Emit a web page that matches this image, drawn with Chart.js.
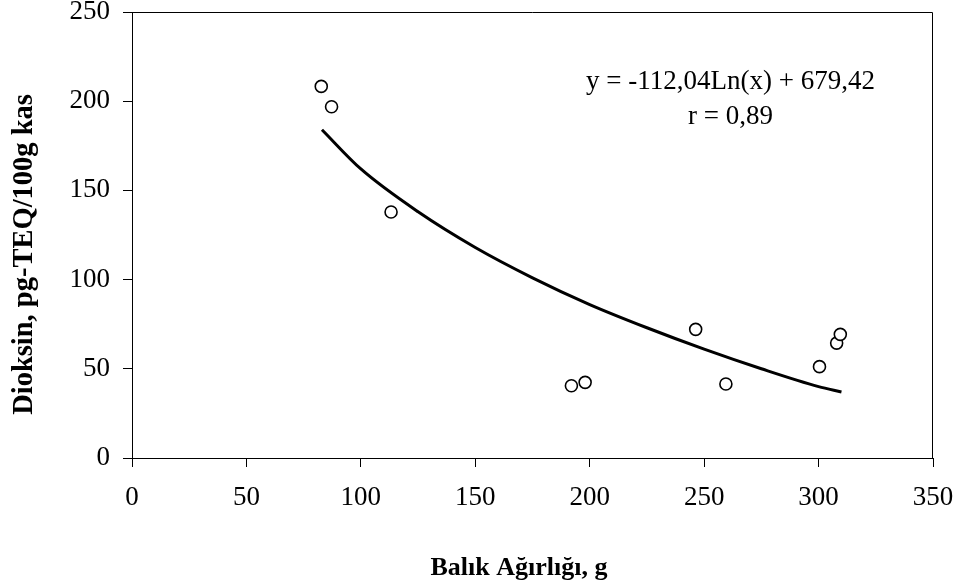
<!DOCTYPE html>
<html>
<head>
<meta charset="utf-8">
<script src="https://cdn.jsdelivr.net/npm/chart.js@4.4.1/dist/chart.umd.min.js"></script>
<style>
  html, body { margin: 0; padding: 0; background: #fff; }
  #wrap { width: 959px; height: 588px; position: relative; }
</style>
</head>
<body>
<div id="wrap"><canvas id="c" width="959" height="588"></canvas></div>
<script>
const weightX = [82.7, 87.2, 113.2, 192.0, 198.0, 246.3, 259.5, 300.4, 307.9, 309.5];
const dioxinY = [208.3, 196.9, 137.9, 40.5, 42.4, 72.1, 41.5, 51.2, 64.4, 69.3];

// Trend line
const trendX = [83, 100, 125, 150, 175, 200, 225, 250, 275, 300, 310];
const trendY = [184, 162, 138, 118, 101, 86, 73, 61, 50, 40, 37];

// Tick values / labels
const xTicks = [0, 50, 100, 150, 200, 250, 300, 350];
const yTicks = [0, 50, 100, 150, 200, 250];

const eqLines = ['y = -112,04Ln(x) + 679,42', 'r = 0,89'];
const eqPos = [{x: 261.5, y: 211}, {x: 261.5, y: 191.3}];

const xTitle = 'Balık Ağırlığı, g';
const yTitle = 'Dioksin, pg-TEQ/100g kas';

const serif = '"Liberation Serif", "Times New Roman", serif';

const framePlugin = {
  id: 'frame',
  afterDatasetsDraw(chart) {
    const {ctx, chartArea: a, scales} = chart;
    ctx.save();
    ctx.strokeStyle = '#000';
    ctx.lineWidth = 1;
    ctx.beginPath();
    ctx.moveTo(a.left, a.top + 0.5);
    ctx.lineTo(a.right - 0.5, a.top + 0.5);
    ctx.lineTo(a.right - 0.5, a.bottom);
    ctx.stroke();
    ctx.fillStyle = '#000';
    ctx.font = '27px ' + serif;
    ctx.textAlign = 'center';
    ctx.textBaseline = 'middle';
    eqLines.forEach((t, i) => {
      ctx.fillText(t, scales.x.getPixelForValue(eqPos[i].x), scales.y.getPixelForValue(eqPos[i].y));
    });
    // axis titles
    ctx.font = 'bold 26px ' + serif;
    ctx.textBaseline = 'alphabetic';
    ctx.fillText(xTitle, 519, 575);
    ctx.save();
    ctx.translate(32, 254.5);
    ctx.rotate(-Math.PI / 2);
    ctx.font = 'bold 28.5px ' + serif;
    ctx.fillText(yTitle, 0, 0);
    ctx.restore();
    ctx.restore();
  }
};

function noPad(s) {
  s.paddingTop = 0; s.paddingBottom = 0; s.paddingLeft = 0; s.paddingRight = 0;
}

new Chart(document.getElementById('c'), {
  type: 'scatter',
  data: {
    datasets: [
      {
        type: 'line',
        label: 'trend',
        data: trendX.map((x, i) => ({x, y: trendY[i]})),
        borderColor: '#000',
        borderWidth: 3,
        pointRadius: 0,
        tension: 0.4,
        cubicInterpolationMode: 'monotone',
        fill: false
      },
      {
        label: 'data',
        data: weightX.map((x, i) => ({x, y: dioxinY[i]})),
        pointRadius: 6,
        pointBorderWidth: 1.6,
        pointBackgroundColor: '#fff',
        pointBorderColor: '#000'
      }
    ]
  },
  options: {
    responsive: false,
    animation: false,
    devicePixelRatio: 1,
    layout: { padding: { left: 0, top: 12, right: 26, bottom: 0 } },
    plugins: { legend: { display: false }, tooltip: { enabled: false } },
    scales: {
      x: {
        type: 'linear',
        min: 0, max: 350,
        afterBuildTicks: s => { s.ticks = xTicks.map(v => ({value: v})); },
        afterFit: s => { s.height = 130; noPad(s); },
        grid: { display: true, drawOnChartArea: false, drawTicks: true, tickLength: 9, color: '#000', lineWidth: 1 },
        border: { display: true, color: '#000', width: 1 },
        ticks: { color: '#000', font: { family: serif, size: 27 }, padding: 15, maxRotation: 0 },
        title: { display: false }
      },
      y: {
        type: 'linear',
        min: 0, max: 250,
        afterBuildTicks: s => { s.ticks = yTicks.map(v => ({value: v})); },
        afterFit: s => { s.width = 132; noPad(s); },
        grid: { display: true, drawOnChartArea: false, drawTicks: true, tickLength: 9, color: '#000', lineWidth: 1 },
        border: { display: true, color: '#000', width: 1 },
        ticks: { color: '#000', font: { family: serif, size: 27 }, padding: 13 },
        title: { display: false }
      }
    }
  },
  plugins: [framePlugin]
});
</script>
</body>
</html>
